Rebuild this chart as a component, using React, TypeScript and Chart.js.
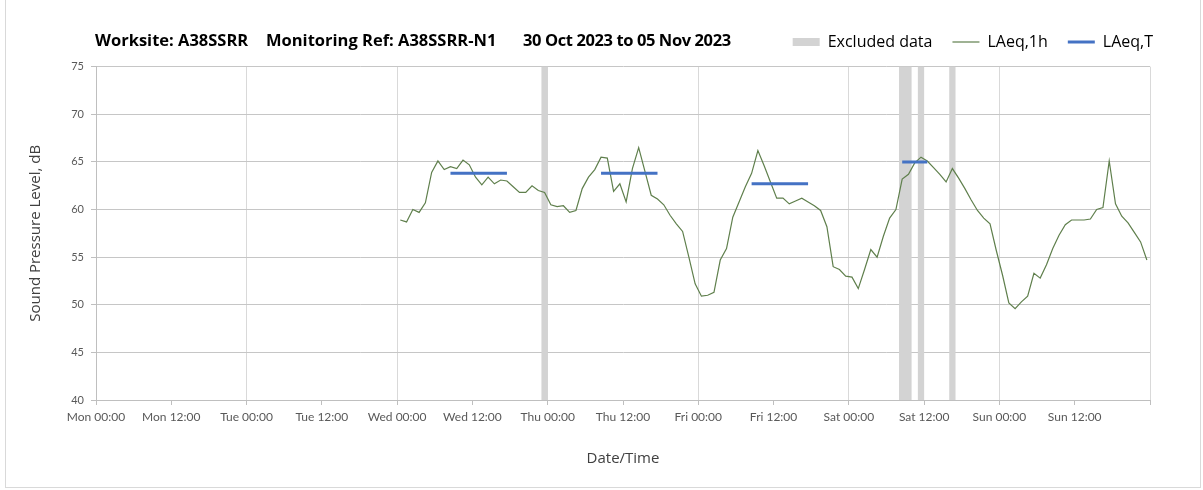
import React, { useEffect, useRef } from 'react';
import { Chart, registerables } from 'chart.js';

Chart.register(...registerables);

// ---- Data ----
// hours measured from Mon 00:00; hourly LAeq,1h values plotted at mid-hour, starting Wed 00:30
const FIRST_HOUR = 48.5;
const laeq1h = [
  // Wed
  58.9, 58.7, 60.0, 59.7, 60.7, 63.9, 65.1, 64.2, 64.5, 64.3, 65.2, 64.7,
  63.4, 62.6, 63.4, 62.7, 63.1, 63.0, 62.4, 61.8, 61.8, 62.5, 62.0, 61.8,
  // Thu
  60.5, 60.3, 60.4, 59.7, 59.9, 62.2, 63.4, 64.2, 65.5, 65.4, 61.9, 62.7,
  60.8, 64.3, 66.5, 64.0, 61.5, 61.1, 60.5, 59.4, 58.5, 57.7, 55.0, 52.2,
  // Fri
  50.9, 51.0, 51.3, 54.7, 55.9, 59.2, 60.8, 62.4, 63.8, 66.2, 64.6, 62.9,
  61.2, 61.2, 60.6, 60.9, 61.2, 60.8, 60.4, 59.9, 58.2, 54.0, 53.7, 53.0,
  // Sat
  52.9, 51.7, 53.7, 55.8, 55.0, 57.2, 59.1, 60.0, 63.2, 63.7, 64.9, 65.5,
  65.1, 64.4, 63.7, 62.9, 64.3, 63.3, 62.2, 61.0, 59.9, 59.1, 58.5, 55.7,
  // Sun
  53.1, 50.2, 49.6, 50.3, 50.9, 53.3, 52.8, 54.2, 55.9, 57.3, 58.4, 58.9,
  58.9, 58.9, 59.0, 60.0, 60.2, 65.1, 60.6, 59.3, 58.6, 57.6, 56.6, 54.7,
];

// LAeq,T daytime periods (first and last hourly mid-points, value)
const laeqTStart = [56.5, 80.5, 104.5, 128.5];
const laeqTEnd = [65.5, 89.5, 113.5, 132.5];
const laeqTValue = [63.8, 63.8, 62.7, 65.0];

// Excluded data periods (hours from Mon 00:00)
const excludedStart = [71, 128, 131, 136];
const excludedEnd = [72, 130, 132, 137];

const xTickLabels = [
  'Mon 00:00', 'Mon 12:00', 'Tue 00:00', 'Tue 12:00', 'Wed 00:00', 'Wed 12:00',
  'Thu 00:00', 'Thu 12:00', 'Fri 00:00', 'Fri 12:00', 'Sat 00:00', 'Sat 12:00',
  'Sun 00:00', 'Sun 12:00',
];

const legendLabels = ['Excluded data', 'LAeq,1h', 'LAeq,T'];
const titleParts = ['Worksite: A38SSRR', 'Monitoring Ref: A38SSRR-N1', '30 Oct 2023 to 05 Nov 2023'];

const GREEN = '#5f7f4c';
const BLUE = '#4472c4';
const EXCLUDED = '#d3d3d3';
const FONT = 'Lato';
const TEXT_FONT = 'Open Sans';

const excludedPlugin = {
  id: 'excludedBands',
  beforeDatasetsDraw(chart: any) {
    const { ctx, scales } = chart;
    const x = scales.x;
    const y = scales.y;
    const yTop = y.getPixelForValue(y.max);
    const yBot = y.getPixelForValue(y.min);
    ctx.save();
    ctx.fillStyle = EXCLUDED;
    for (let i = 0; i < excludedStart.length; i++) {
      const x0 = x.getPixelForValue(excludedStart[i]);
      const x1 = x.getPixelForValue(excludedEnd[i]);
      ctx.fillRect(x0, yTop, x1 - x0, yBot - yTop);
    }
    ctx.restore();
  },
};

export default function App() {
  const canvasRef = useRef<HTMLCanvasElement | null>(null);

  useEffect(() => {
    if (!canvasRef.current) return;
    const lineData = laeq1h.map((v, i) => ({ x: FIRST_HOUR + i, y: v }));
    const tData: any[] = [];
    for (let p = 0; p < laeqTStart.length; p++) {
      for (let h = laeqTStart[p]; h <= laeqTEnd[p]; h += 1) tData.push({ x: h, y: laeqTValue[p] });
      tData.push({ x: laeqTEnd[p] + 0.5, y: null });
    }

    const chart = new Chart(canvasRef.current, {
      type: 'line',
      data: {
        datasets: [
          {
            label: legendLabels[2],
            data: tData,
            borderColor: BLUE,
            borderWidth: 3,
            pointRadius: 0,
            spanGaps: false,
            order: 0,
          },
          {
            label: legendLabels[1],
            data: lineData,
            borderColor: GREEN,
            borderWidth: 1.2,
            pointRadius: 0,
            tension: 0,
            order: 1,
          },
        ],
      },
      options: {
        responsive: false,
        animation: false,
        parsing: false as any,
        layout: { padding: { top: 14, right: 27, left: 0, bottom: 0 } },
        plugins: {
          tooltip: { enabled: false },
          title: { display: false },
          legend: {
            display: true,
            position: 'top',
            align: 'end',
            labels: {
              usePointStyle: true,
              pointStyleWidth: 27,
              boxHeight: 8,
              padding: 20,
              color: '#404040',
              font: { family: TEXT_FONT, size: 16 },
              generateLabels: () => [
                { text: legendLabels[0], fillStyle: EXCLUDED, strokeStyle: EXCLUDED, lineWidth: 0, pointStyle: 'rect', hidden: false },
                { text: legendLabels[1], fillStyle: 'rgba(0,0,0,0)', strokeStyle: GREEN, lineWidth: 1.2, pointStyle: 'line', hidden: false },
                { text: legendLabels[2], fillStyle: 'rgba(0,0,0,0)', strokeStyle: BLUE, lineWidth: 3, pointStyle: 'line', hidden: false },
              ] as any,
            },
          },
        },
        scales: {
          x: {
            type: 'linear',
            position: 'bottom',
            min: 0,
            max: 168,
            afterFit: (s: any) => { s.height = 87; },
            ticks: {
              stepSize: 12,
              autoSkip: false,
              maxRotation: 0,
              padding: 5,
              color: '#595959',
              font: { family: FONT, size: 12 },
              callback: (value: any) => {
                const v = Number(value);
                const idx = Math.round(v / 12);
                return v % 12 === 0 && idx < xTickLabels.length ? xTickLabels[idx] : '';
              },
            },
            grid: {
              color: (c: any) => (c.tick && c.tick.value % 24 === 0 ? '#d9d9d9' : 'rgba(0,0,0,0)'),
              tickColor: '#bfbfbf',
              tickLength: 5,
              lineWidth: 1,
            },
            border: { color: '#bfbfbf' },
            title: {
              display: true,
              text: 'Date/Time',
              color: '#404040',
              font: { family: TEXT_FONT, size: 15 },
              padding: { top: 0, bottom: 19 },
            },
          },
          xT: {
            type: 'linear',
            position: 'top',
            min: 0,
            max: 168,
            display: true,
            afterFit: (s: any) => { s.height = 6.7; },
            ticks: { display: false },
            grid: { display: false, drawTicks: false },
            border: { display: false },
          },
          y: {
            type: 'linear',
            position: 'left',
            min: 40,
            max: 75,
            afterFit: (s: any) => { s.width = 90; },
            ticks: {
              stepSize: 5,
              padding: 7,
              color: '#595959',
              font: { family: FONT, size: 11 },
            },
            grid: { color: '#c6c6c6', tickColor: '#bfbfbf', tickLength: 5 },
            border: { color: '#bfbfbf' },
            title: {
              display: true,
              text: 'Sound Pressure Level, dB',
              color: '#404040',
              font: { family: TEXT_FONT, size: 15 },
              padding: { top: 21, bottom: 0 },
            },
          },
          yR: {
            type: 'linear',
            position: 'right',
            min: 40,
            max: 75,
            display: true,
            afterFit: (s: any) => { s.width = 23; },
            ticks: { display: false },
            grid: { display: false, drawTicks: false },
            border: { display: false },
          },
        },
      } as any,
      plugins: [excludedPlugin],
    });
    return () => chart.destroy();
  }, []);

  const titleLeft = [89, 260, 517];
  return (
    <div
      style={{
        position: 'fixed',
        left: 5,
        top: 0,
        width: 1196,
        height: 488,
        boxSizing: 'border-box',
        borderLeft: '1px solid #d9d9d9',
        borderRight: '1px solid #d9d9d9',
        borderBottom: '1px solid #d9d9d9',
        background: '#fff',
      }}
    >
      <canvas ref={canvasRef} width={1194} height={487} style={{ display: 'block' }} />
      {titleParts.map((t, i) => (
        <span
          key={i}
          style={{
            position: 'absolute',
            left: titleLeft[i],
            top: 30,
            lineHeight: '20px',
            fontFamily: TEXT_FONT,
            fontWeight: 700,
            fontSize: 16.5,
            letterSpacing: i === 2 ? '-0.4px' : '0px',
            color: '#000',
            whiteSpace: 'pre',
          }}
        >
          {t}
        </span>
      ))}
    </div>
  );
}
